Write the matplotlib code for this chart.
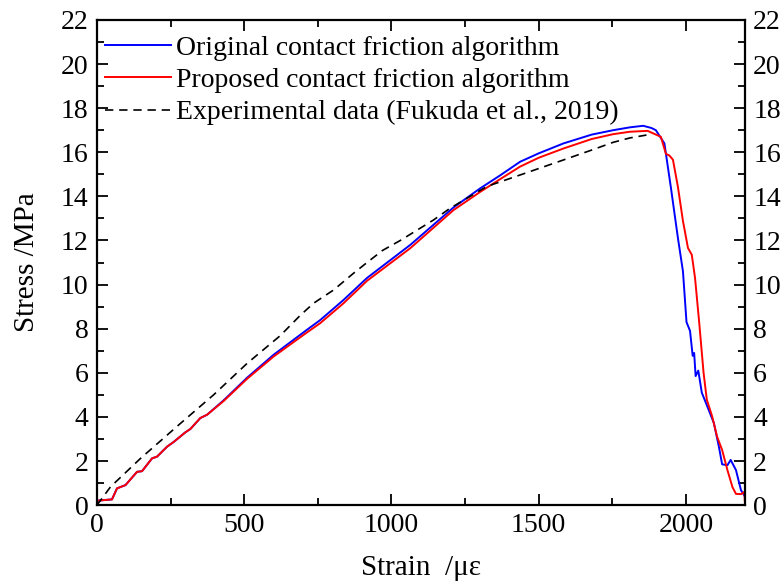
import matplotlib
matplotlib.use("Agg")
import matplotlib.pyplot as plt
from matplotlib.ticker import MultipleLocator

plt.rcParams["font.family"] = ["Liberation Serif", "DejaVu Serif"]

# original contact friction algorithm (blue)
orig_x = [0, 51, 68, 97, 136, 153, 187, 204, 238, 261, 300, 317, 351, 374, 430, 510, 600, 713,
          758, 837, 917, 1064, 1211, 1301, 1369, 1437, 1500, 1584, 1680, 1753, 1810, 1855,
          1883, 1898, 1927, 1949, 1973, 1990, 2002, 2014, 2023, 2028, 2033, 2042, 2054, 2077,
          2095, 2112, 2123, 2141, 2152, 2170, 2187, 2200]
orig_y = [0.2, 0.26, 0.76, 0.91, 1.51, 1.54, 2.12, 2.2, 2.65, 2.87, 3.3, 3.45, 3.95, 4.1, 4.75,
          5.78, 6.82, 7.95, 8.39, 9.3, 10.3, 11.8, 13.5, 14.36, 14.95, 15.57, 15.95, 16.4, 16.8,
          17.0, 17.13, 17.2, 17.1, 17.0, 16.4, 14.4, 12.1, 10.6, 8.3, 7.9, 6.77, 6.9, 5.85, 6.1,
          5.1, 4.33, 3.72, 2.65, 1.85, 1.81, 2.05, 1.59, 0.68, 0.4]

# proposed contact friction algorithm (red)
prop_x = [0, 51, 68, 97, 136, 153, 187, 204, 238, 261, 300, 317, 351, 374, 430, 510, 600, 713,
          758, 837, 917, 1064, 1211, 1301, 1369, 1437, 1500, 1584, 1680, 1753, 1810, 1870,
          1915, 1932, 1944, 1956, 1973, 1990, 2007, 2020, 2031, 2045, 2060, 2071, 2089, 2106,
          2123, 2141, 2158, 2170, 2187, 2199, 2200]
prop_y = [0.2, 0.26, 0.76, 0.91, 1.51, 1.54, 2.12, 2.2, 2.65, 2.87, 3.3, 3.45, 3.95, 4.1, 4.72,
          5.73, 6.74, 7.83, 8.25, 9.15, 10.17, 11.65, 13.38, 14.2, 14.78, 15.35, 15.75, 16.17,
          16.6, 16.82, 16.93, 16.97, 16.7, 15.93, 15.85, 15.66, 14.42, 12.88, 11.66, 11.35,
          10.3, 8.3, 6.0, 4.78, 4.03, 3.1, 2.5, 1.59, 0.82, 0.51, 0.5, 0.6, 0.2]

# experimental data (Fukuda et al., 2019)
exp_x = [0, 46, 148, 283, 396, 510, 622, 690, 735, 803, 870, 917, 970, 1030, 1143, 1199, 1256,
         1324, 1437, 1584, 1680, 1753, 1810, 1866]
exp_y = [0, 0.83, 2.12, 3.7, 5.0, 6.43, 7.68, 8.6, 9.15, 9.75, 10.5, 11.0, 11.55, 12.0, 12.93,
         13.46, 13.91, 14.45, 14.97, 15.65, 16.1, 16.45, 16.65, 16.78]

fig = plt.figure(figsize=(7.84, 5.86), dpi=100)
ax = fig.add_axes([0.1237, 0.138, 0.8263, 0.828])

ax.plot(orig_x, orig_y, color="#0000ff", lw=1.4, label="Original contact friction algorithm")
ax.plot(prop_x, prop_y, color="#ff0000", lw=1.4, label="Proposed contact friction algorithm")
ax.plot(exp_x, exp_y, color="black", lw=1.2, ls=(0, (5, 3.5)),
        label="Experimental data (Fukuda et al., 2019)")

ax.set_xlim(0, 2200)
ax.set_ylim(0, 22)
ax.xaxis.set_major_locator(MultipleLocator(500))
ax.xaxis.set_minor_locator(MultipleLocator(250))
ax.yaxis.set_major_locator(MultipleLocator(2))
ax.yaxis.set_minor_locator(MultipleLocator(1))
ax.tick_params(which="both", direction="in", top=True, right=True, labelright=True,
               labelsize=20, width=1.3, pad=6)
ax.tick_params(which="major", length=8)
ax.tick_params(which="minor", length=5)
for s in ax.spines.values():
    s.set_linewidth(1.6)

ax.set_xlabel("Strain  /με", fontsize=21, labelpad=12)
ax.set_ylabel("Stress /MPa", fontsize=21, labelpad=15)

ax.legend(loc="upper left", bbox_to_anchor=(0.0, 0.9856), frameon=False, fontsize=20,
          handlelength=2.35, handletextpad=0.2, labelspacing=0.25, borderpad=0.3,
          borderaxespad=0.0)

fig.savefig("out.png", dpi=100)
